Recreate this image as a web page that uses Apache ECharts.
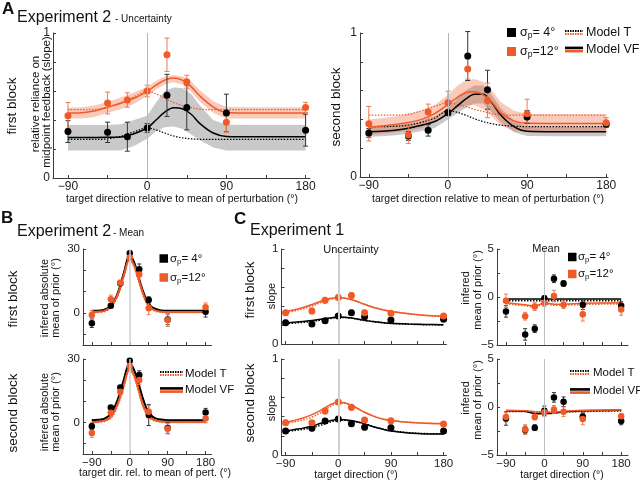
<!DOCTYPE html>
<html>
<head>
<meta charset="utf-8">
<script src="https://cdn.jsdelivr.net/npm/echarts@6/dist/echarts.min.js"></script>
<style>
  html, body { margin: 0; background: #fff; }
  #chart { width: 640px; height: 482px; }
</style>
</head>
<body>
<div id="chart"></div>
<script>
// target directions of the measured points, and the x grid of the model curves
const xs = [-90, -45, -22.5, 0, 22.5, 45, 90, 180];
const cx = [-90, -75, -60, -45, -30, -15, 0, 10, 20, 30, 40, 50, 60, 75, 90, 120, 150, 180];
const xTicks = [-90, -45, 0, 45, 90, 135, 180];
const xLabels = [-90, 0, 90, 180];

// A, first block (slope)
const a1K = [0.32, 0.315, 0.285, 0.345, 0.57, 0.487, 0.448, 0.33];
const a1KErr = [0.075, 0.07, 0.1, 0.03, 0.145, 0.155, 0.13, 0.11];
const a1O = [0.43, 0.517, 0.538, 0.6, 0.85, 0.664, 0.385, 0.487];
const a1OErr = [0.09, 0.075, 0.05, 0.04, 0.115, 0.045, 0.07, 0.035];
const a1VfK = [0.28, 0.28, 0.28, 0.281, 0.283, 0.305, 0.345, 0.4, 0.455, 0.485, 0.478, 0.44, 0.375, 0.31, 0.287, 0.285, 0.285, 0.285];
const a1VfO = [0.448, 0.45, 0.462, 0.488, 0.515, 0.55, 0.598, 0.64, 0.675, 0.69, 0.675, 0.63, 0.565, 0.49, 0.452, 0.448, 0.448, 0.448];
const a1TK = [0.266, 0.266, 0.266, 0.27, 0.288, 0.318, 0.345, 0.332, 0.31, 0.29, 0.277, 0.27, 0.267, 0.266, 0.266, 0.266, 0.266, 0.266];
const a1TO = [0.471, 0.471, 0.473, 0.49, 0.52, 0.56, 0.598, 0.58, 0.55, 0.52, 0.5, 0.485, 0.475, 0.471, 0.471, 0.471, 0.471, 0.471];
const a1BandKLo = [0.19, 0.19, 0.19, 0.19, 0.19, 0.22, 0.27, 0.32, 0.35, 0.355, 0.34, 0.3, 0.26, 0.21, 0.19, 0.19, 0.19, 0.19];
const a1BandKHi = [0.366, 0.366, 0.366, 0.366, 0.37, 0.4, 0.43, 0.52, 0.6, 0.625, 0.62, 0.58, 0.5, 0.4, 0.367, 0.366, 0.366, 0.366];
const a1BandOLo = [0.41, 0.41, 0.42, 0.45, 0.475, 0.51, 0.565, 0.61, 0.645, 0.66, 0.645, 0.595, 0.525, 0.45, 0.41, 0.41, 0.41, 0.41];
const a1BandOHi = [0.485, 0.488, 0.5, 0.525, 0.555, 0.59, 0.63, 0.67, 0.7, 0.71, 0.7, 0.665, 0.605, 0.53, 0.49, 0.488, 0.488, 0.488];

// A, second block
const a2K = [0.306, 0.285, 0.324, 0.447, 0.84, 0.606, 0.417, 0.366];
const a2KErr = [0.03, 0.03, 0.04, 0.02, 0.17, 0.135, 0.045, 0.02];
const a2O = [0.37, 0.292, 0.451, 0.516, 0.75, 0.532, 0.44, 0.377];
const a2OErr = [0.12, 0.06, 0.055, 0.08, 0.07, 0.12, 0.1, 0.035];
const a2VfK = [0.315, 0.318, 0.325, 0.338, 0.36, 0.385, 0.44, 0.49, 0.54, 0.575, 0.575, 0.515, 0.43, 0.35, 0.318, 0.315, 0.315, 0.315];
const a2VfO = [0.347, 0.355, 0.365, 0.378, 0.4, 0.44, 0.505, 0.55, 0.585, 0.592, 0.57, 0.52, 0.445, 0.39, 0.373, 0.372, 0.372, 0.372];
const a2TK = [0.35, 0.35, 0.352, 0.36, 0.38, 0.41, 0.46, 0.45, 0.43, 0.405, 0.385, 0.37, 0.36, 0.353, 0.35, 0.35, 0.35, 0.35];
const a2TO = [0.43, 0.43, 0.43, 0.435, 0.46, 0.49, 0.515, 0.505, 0.49, 0.47, 0.455, 0.44, 0.432, 0.43, 0.43, 0.43, 0.43, 0.43];
const a2BandKLo = [0.28, 0.283, 0.29, 0.3, 0.32, 0.34, 0.4, 0.44, 0.48, 0.51, 0.51, 0.45, 0.38, 0.31, 0.285, 0.283, 0.283, 0.283];
const a2BandKHi = [0.35, 0.353, 0.36, 0.37, 0.39, 0.42, 0.48, 0.54, 0.6, 0.635, 0.635, 0.57, 0.48, 0.39, 0.35, 0.348, 0.348, 0.348];
const a2BandOLo = [0.29, 0.3, 0.31, 0.32, 0.34, 0.38, 0.44, 0.47, 0.5, 0.5, 0.47, 0.42, 0.36, 0.32, 0.31, 0.31, 0.31, 0.31];
const a2BandOHi = [0.4, 0.41, 0.42, 0.44, 0.46, 0.5, 0.57, 0.63, 0.67, 0.68, 0.66, 0.6, 0.52, 0.46, 0.44, 0.435, 0.435, 0.435];

// B, inferred absolute mean of prior (deg)
const b1K = [-4.8, 3.4, 13.9, 28, 20.5, 6.1, -3, 0.6];
const b1KErr = [2, 1, 1, 1, 2.5, 1.5, 2.5, 2.5];
const b1O = [-0.9, 6.4, 14.2, 26, 18, 2.2, -3.3, 2.7];
const b1OErr = [2, 2, 1.2, 1, 2, 3, 3, 2];
const b1VfK = [1, 1.1, 1.5, 3.5, 8.5, 18, 27, 24, 17.5, 11, 6, 3.2, 2, 1.2, 1, 1, 1, 1];
const b1VfO = [0.5, 0.6, 1, 3, 8, 17, 25.5, 22.5, 16.5, 10, 5, 2.5, 1.2, 0.6, 0.5, 0.5, 0.5, 0.5];
const b1TK = [0.8, 0.9, 1.3, 3.2, 8.2, 17.5, 26.5, 23.5, 17, 10.5, 5.6, 3, 1.8, 1, 0.8, 0.8, 0.8, 0.8];
const b1TO = [0.3, 0.4, 0.8, 2.7, 7.6, 16.5, 25, 22, 16, 9.5, 4.6, 2.2, 1, 0.4, 0.3, 0.3, 0.3, 0.3];

const b2K = [-1.9, 7, 16.5, 29.2, 22.4, 3.5, -2.7, 4.6];
const b2KErr = [1.5, 1, 1, 1, 2, 5, 2.5, 2];
const b2O = [-5.1, 4.5, 14.5, 26.7, 20, 5, -3, 1.8];
const b2OErr = [2, 2, 1.5, 1.2, 2, 3, 2.5, 2];
const b2VfK = [1, 1.2, 1.8, 4, 10, 19.5, 28, 25, 19, 12, 6.5, 3.5, 2, 1.3, 1, 1, 1, 1];
const b2VfO = [0.2, 0.3, 0.8, 2.5, 8, 17, 25.5, 22.5, 16, 9, 4.5, 2, 1, 0.4, 0.2, 0.2, 0.2, 0.2];
const b2TK = [0.8, 1, 1.6, 3.7, 9.6, 19, 27.5, 24.5, 18.5, 11.5, 6, 3.2, 1.8, 1.1, 0.8, 0.8, 0.8, 0.8];
const b2TO = [0, 0.1, 0.6, 2.2, 7.5, 16.5, 25, 22, 15.5, 8.5, 4, 1.7, 0.8, 0.2, 0, 0, 0, 0];

// C, experiment 1, uncertainty (slope)
const c1K = [0.225, 0.21, 0.246, 0.295, 0.33, 0.288, 0.253, 0.26];
const c1KErr = [0.025, 0.02, 0.02, 0.02, 0.025, 0.02, 0.02, 0.015];
const c1O = [0.33, 0.347, 0.46, 0.49, 0.51, 0.33, 0.323, 0.295];
const c1OErr = [0.025, 0.03, 0.03, 0.025, 0.03, 0.025, 0.02, 0.015];
const c1VfK = [0.222, 0.228, 0.236, 0.247, 0.26, 0.274, 0.283, 0.282, 0.276, 0.266, 0.255, 0.245, 0.236, 0.226, 0.218, 0.21, 0.205, 0.203];
const c1VfO = [0.34, 0.36, 0.385, 0.415, 0.45, 0.478, 0.488, 0.485, 0.472, 0.452, 0.428, 0.405, 0.385, 0.36, 0.343, 0.318, 0.3, 0.292];
const c1TK = [0.215, 0.22, 0.228, 0.238, 0.252, 0.268, 0.28, 0.28, 0.274, 0.264, 0.253, 0.243, 0.234, 0.224, 0.216, 0.208, 0.203, 0.2];
const c1TO = [0.33, 0.348, 0.372, 0.4, 0.435, 0.468, 0.482, 0.482, 0.47, 0.452, 0.43, 0.408, 0.388, 0.363, 0.346, 0.32, 0.302, 0.294];

const c2K = [0.25, 0.278, 0.354, 0.375, 0.326, 0.288, 0.285, 0.25];
const c2KErr = [0.025, 0.025, 0.02, 0.025, 0.02, 0.025, 0.025, 0.015];
const c2O = [0.337, 0.337, 0.458, 0.552, 0.497, 0.365, 0.358, 0.323];
const c2OErr = [0.025, 0.02, 0.03, 0.025, 0.03, 0.025, 0.02, 0.02];
const c2VfK = [0.25, 0.265, 0.28, 0.3, 0.33, 0.355, 0.37, 0.368, 0.36, 0.35, 0.335, 0.315, 0.295, 0.27, 0.25, 0.23, 0.22, 0.218];
const c2VfO = [0.34, 0.36, 0.385, 0.42, 0.465, 0.52, 0.55, 0.545, 0.525, 0.495, 0.46, 0.43, 0.405, 0.375, 0.36, 0.34, 0.33, 0.325];
const c2TK = [0.245, 0.255, 0.268, 0.285, 0.31, 0.34, 0.362, 0.362, 0.356, 0.347, 0.333, 0.315, 0.296, 0.272, 0.253, 0.233, 0.223, 0.22];
const c2TO = [0.33, 0.345, 0.365, 0.395, 0.44, 0.5, 0.54, 0.54, 0.522, 0.495, 0.462, 0.433, 0.408, 0.378, 0.362, 0.342, 0.332, 0.327];

// C, experiment 1, mean (deg) - model values at the measured directions
const c3K = [-1.5, -3.9, -3.3, -0.15, 1.9, 1.4, -0.8, -0.9];
const c3KErr = [0.6, 0.6, 0.4, 0.3, 0.4, 0.3, 0.5, 0.4];
const c3O = [-0.4, -2.0, -1.0, -0.6, 0.1, -0.8, -1.8, -1.3];
const c3OErr = [0.7, 0.4, 0.4, 0.4, 0.6, 0.4, 0.7, 0.6];
const c3VfK = [-0.2, -0.2, -0.2, -0.2, -0.2, -0.2, -0.2, -0.2];
const c3VfO = [-0.6, -0.8, -0.95, -0.6, -0.75, -0.75, -0.65, -0.6];
const c3TK = [-0.38, -0.38, -0.38, -0.38, -0.38, -0.38, -0.38, -0.38];
const c3TO = [-0.7, -0.9, -1.05, -0.7, -0.85, -0.85, -0.75, -0.7];

const c4K = [-1.2, -2.4, -2.15, -0.4, 1.0, 0.55, -1.0, -1.45];
const c4KErr = [0.7, 0.4, 0.3, 0.5, 0.5, 0.5, 0.4, 0.4];
const c4O = [-1.05, -2.35, -1.05, -0.55, -0.25, -0.5, -1.25, -0.97];
const c4OErr = [0.5, 0.5, 0.3, 0.4, 0.4, 0.5, 0.6, 0.3];
const c4VfK = [-0.4, -0.45, -0.7, -0.7, -0.65, -0.5, -0.4, -0.35];
const c4VfO = [-0.35, -0.4, -0.5, -0.55, -0.55, -0.45, -0.35, -0.3];
const c4TK = [-0.45, -0.45, -0.5, -0.55, -0.55, -0.5, -0.45, -0.4];
const c4TO = [-0.4, -0.45, -0.55, -0.6, -0.6, -0.5, -0.4, -0.35];

const FONT = '"Liberation Sans", Arial, sans-serif';
const AX = '#3c3c3c';
const BLACK = '#000000';
const ORANGE = '#ef5a28';

function minus(v) { return v < 0 ? '\u2212' + (-v) : String(v); }

/* grids: left, top, width, height */
const grids = [
  { left: 53, top: 33, width: 257, height: 145 },     // A1
  { left: 360, top: 33, width: 248, height: 144 },    // A2
  { left: 83, top: 249, width: 128.5, height: 96 },   // B1
  { left: 83, top: 359, width: 128.5, height: 95 },   // B2
  { left: 281.5, top: 249, width: 165, height: 95 },  // C1
  { left: 281.5, top: 359, width: 165, height: 96 },  // C2
  { left: 497, top: 249, width: 131, height: 96 },    // C3
  { left: 497, top: 359, width: 131, height: 96 }     // C4
];

const xRange = [[-107, 185], [-100, 182], [-111, 194], [-111, 194], [-97, 185], [-97, 185], [-111, 196], [-111, 196]];
const yRange = [[0, 1], [0, 1], [-15, 30], [-15, 30], [0, 1], [0, 1], [-5, 5], [-5, 5]];
const yTicks = [
  [0, 0.2, 0.4, 0.6, 0.8, 1], [0, 0.2, 0.4, 0.6, 0.8, 1],
  [-10, 0, 10, 20, 30], [-10, 0, 10, 20, 30],
  [0, 0.2, 0.4, 0.6, 0.8, 1], [0, 0.2, 0.4, 0.6, 0.8, 1],
  [-5, -2.5, 0, 2.5, 5], [-5, -2.5, 0, 2.5, 5]
];
const yLabels = [[0, 1], [0, 1], [0, 30], [0, 30], [0, 1], [0, 1], [-5, 0, 5], [-5, 0, 5]];
const showXLabels = [true, true, false, true, false, true, false, true];

const xAxes = grids.map((g, i) => ({
  type: 'value', gridIndex: i, min: xRange[i][0], max: xRange[i][1],
  axisLine: { onZero: false, lineStyle: { color: AX, width: 1 } },
  splitLine: { show: false },
  axisTick: { inside: true, length: 3, lineStyle: { color: AX }, customValues: xTicks },
  axisLabel: {
    show: showXLabels[i], customValues: xLabels, formatter: minus,
    fontSize: i < 2 ? 12 : 11.5, color: '#222', margin: 3, fontFamily: FONT
  }
}));

const yAxes = grids.map((g, i) => ({
  type: 'value', gridIndex: i, min: yRange[i][0], max: yRange[i][1],
  axisLine: { onZero: false, lineStyle: { color: AX, width: 1 } },
  splitLine: { show: false },
  axisTick: { inside: true, length: 3, lineStyle: { color: AX }, customValues: yTicks[i] },
  axisLabel: {
    customValues: yLabels[i], formatter: minus,
    fontSize: i < 2 ? 12 : 11.5, color: '#222', margin: 3, fontFamily: FONT
  }
}));

function curve(gi, xv, yv, color, width, dotted, smooth) {
  return {
    type: 'line', xAxisIndex: gi, yAxisIndex: gi, silent: true, z: 2,
    data: xv.map((x, i) => [x, yv[i]]),
    symbol: 'none', smooth: smooth,
    lineStyle: { color: color, width: width, type: dotted ? [1.5, 1.5] : 'solid' }
  };
}

/* shaded band between lo and hi, drawn as one polygon */
function band(gi, lo, hi, color) {
  return {
    type: 'custom', xAxisIndex: gi, yAxisIndex: gi, silent: true, z: 1,
    data: [[cx[0], lo[0], hi[0]]],
    encode: { x: 0, y: [1, 2] },
    renderItem: function (params, api) {
      const pts = [];
      for (let i = 0; i < cx.length; i++) pts.push(api.coord([cx[i], hi[i]]));
      for (let i = cx.length - 1; i >= 0; i--) pts.push(api.coord([cx[i], lo[i]]));
      return { type: 'polygon', shape: { points: pts }, style: { fill: color } };
    }
  };
}

function errBars(gi, vals, errs, color, cap) {
  return {
    type: 'custom', xAxisIndex: gi, yAxisIndex: gi, silent: true, z: 3,
    data: xs.map((x, i) => [x, vals[i] - errs[i], vals[i] + errs[i]]),
    encode: { x: 0, y: [1, 2] },
    renderItem: function (params, api) {
      const lo = api.coord([api.value(0), api.value(1)]);
      const hi = api.coord([api.value(0), api.value(2)]);
      const w = cap / 2;
      const st = { stroke: color, lineWidth: 1 };
      return {
        type: 'group', children: [
          { type: 'line', shape: { x1: lo[0], y1: lo[1], x2: hi[0], y2: hi[1] }, style: st },
          { type: 'line', shape: { x1: lo[0] - w, y1: lo[1], x2: lo[0] + w, y2: lo[1] }, style: st },
          { type: 'line', shape: { x1: hi[0] - w, y1: hi[1], x2: hi[0] + w, y2: hi[1] }, style: st }
        ]
      };
    }
  };
}

function dots(gi, vals, color, size) {
  return {
    type: 'scatter', xAxisIndex: gi, yAxisIndex: gi, silent: true, z: 4,
    data: xs.map((x, i) => [x, vals[i]]), symbolSize: size,
    itemStyle: { color: color, opacity: 1 }
  };
}

function zeroLine(gi, color, width) {
  return {
    type: 'line', xAxisIndex: gi, yAxisIndex: gi, silent: true, z: 0, data: [],
    markLine: {
      silent: true, symbol: 'none', label: { show: false }, animation: false,
      lineStyle: { color: color, width: width, type: 'solid' },
      data: [{ xAxis: 0 }]
    }
  };
}

/* one panel: measured points, error bars, model T (dotted) and model VF (solid) */
function panel(gi, p) {
  const s = [zeroLine(gi, p.zeroColor, p.zeroWidth)];
  if (p.bandK) s.push(band(gi, p.bandK[0], p.bandK[1], 'rgba(0,0,0,0.21)'));
  if (p.bandO) s.push(band(gi, p.bandO[0], p.bandO[1], 'rgba(240,90,40,0.32)'));
  s.push(curve(gi, p.cxv, p.tK, BLACK, p.tw, true, p.smooth));
  s.push(curve(gi, p.cxv, p.tO, ORANGE, p.tw, true, p.smooth));
  s.push(curve(gi, p.cxv, p.vfK, BLACK, p.lw, false, p.smooth));
  s.push(curve(gi, p.cxv, p.vfO, ORANGE, p.lw, false, p.smooth));
  s.push(errBars(gi, p.k, p.kErr, '#333333', p.cap));
  s.push(errBars(gi, p.o, p.oErr, '#f07a50', p.cap));
  s.push(dots(gi, p.k, BLACK, p.size));
  s.push(dots(gi, p.o, ORANGE, p.size));
  return s;
}

const series = [].concat(
  panel(0, { k: a1K, kErr: a1KErr, o: a1O, oErr: a1OErr, cxv: cx, vfK: a1VfK, vfO: a1VfO, tK: a1TK, tO: a1TO,
    bandK: [a1BandKLo, a1BandKHi], bandO: [a1BandOLo, a1BandOHi], lw: 1.5, tw: 1.2, smooth: 0.35, cap: 5, size: 7,
    zeroColor: '#b5b5b5', zeroWidth: 1 }),
  panel(1, { k: a2K, kErr: a2KErr, o: a2O, oErr: a2OErr, cxv: cx, vfK: a2VfK, vfO: a2VfO, tK: a2TK, tO: a2TO,
    bandK: [a2BandKLo, a2BandKHi], bandO: [a2BandOLo, a2BandOHi], lw: 1.5, tw: 1.2, smooth: 0.35, cap: 5, size: 7,
    zeroColor: '#b5b5b5', zeroWidth: 1 }),
  panel(2, { k: b1K, kErr: b1KErr, o: b1O, oErr: b1OErr, cxv: cx, vfK: b1VfK, vfO: b1VfO, tK: b1TK, tO: b1TO,
    lw: 2, tw: 2, smooth: 0.35, cap: 4, size: 6.5, zeroColor: '#cfcfcf', zeroWidth: 1.5 }),
  panel(3, { k: b2K, kErr: b2KErr, o: b2O, oErr: b2OErr, cxv: cx, vfK: b2VfK, vfO: b2VfO, tK: b2TK, tO: b2TO,
    lw: 2, tw: 2, smooth: 0.35, cap: 4, size: 6.5, zeroColor: '#cfcfcf', zeroWidth: 1.5 }),
  panel(4, { k: c1K, kErr: c1KErr, o: c1O, oErr: c1OErr, cxv: cx, vfK: c1VfK, vfO: c1VfO, tK: c1TK, tO: c1TO,
    lw: 1.5, tw: 1.5, smooth: 0.35, cap: 4, size: 7, zeroColor: '#d0d0d0', zeroWidth: 2 }),
  panel(5, { k: c2K, kErr: c2KErr, o: c2O, oErr: c2OErr, cxv: cx, vfK: c2VfK, vfO: c2VfO, tK: c2TK, tO: c2TO,
    lw: 1.5, tw: 1.5, smooth: 0.35, cap: 4, size: 7, zeroColor: '#d0d0d0', zeroWidth: 2 }),
  panel(6, { k: c3K, kErr: c3KErr, o: c3O, oErr: c3OErr, cxv: xs, vfK: c3VfK, vfO: c3VfO, tK: c3TK, tO: c3TO,
    lw: 1.5, tw: 1.8, smooth: false, cap: 4, size: 6.5, zeroColor: '#c0c0c0', zeroWidth: 1 }),
  panel(7, { k: c4K, kErr: c4KErr, o: c4O, oErr: c4OErr, cxv: xs, vfK: c4VfK, vfO: c4VfO, tK: c4TK, tO: c4TO,
    lw: 1.5, tw: 1.8, smooth: false, cap: 4, size: 6.5, zeroColor: '#c0c0c0', zeroWidth: 1 })
);

/* texts and legends */
function txt(x, y, s, size, opt) {
  opt = opt || {};
  return {
    type: 'text', x: x, y: y, rotation: opt.rot ? Math.PI / 2 : 0, silent: true, z: 10,
    style: {
      text: s, fontSize: size, fontFamily: FONT, fill: '#111',
      fontWeight: opt.bold ? 'bold' : 'normal',
      textAlign: opt.align || 'center', textVerticalAlign: 'middle', rich: opt.rich
    }
  };
}

function sigma(x, y, s, size) {
  return txt(x, y, '{a|\u03c3}{s|p}{a|' + s + '}', size, {
    align: 'left',
    rich: {
      a: { fontSize: size, fontFamily: FONT, fill: '#111' },
      s: { fontSize: size * 0.68, fontFamily: FONT, fill: '#111', padding: [size * 0.5, 0, 0, 0] }
    }
  });
}

function sq(x, y, w, color) {
  return { type: 'rect', silent: true, z: 10, shape: { x: x, y: y, width: w, height: w }, style: { fill: color } };
}

function seg(x1, x2, y, color, w, dotted) {
  return {
    type: 'line', silent: true, z: 10, shape: { x1: x1, y1: y, x2: x2, y2: y },
    style: { stroke: color, lineWidth: w, lineDash: dotted ? [1.5, 1] : null }
  };
}

function sigmaLegend(x, y1, y2, w, tx, size) {
  return [
    sq(x, y1 - w / 2, w, BLACK), sigma(tx, y1, '= 4\u00b0', size),
    sq(x, y2 - w / 2, w, ORANGE), sigma(tx, y2, '=12\u00b0', size)
  ];
}

function modelLegend(x1, x2, yT, yVF, tx, size) {
  return [
    seg(x1, x2, yT - 1.5, BLACK, 2, true), seg(x1, x2, yT + 1.5, ORANGE, 2, true),
    txt(tx, yT, 'Model T', size, { align: 'left' }),
    seg(x1, x2, yVF - 1.6, BLACK, 2.6, false), seg(x1, x2, yVF + 1.6, ORANGE, 2.6, false),
    txt(tx, yVF, 'Model VF', size, { align: 'left' })
  ];
}

const xTitleA = 'target direction relative to mean of perturbation (\u00b0)';

const graphic = [
  txt(2, 9, 'A', 17, { bold: true, align: 'left' }),
  txt(17, 18, 'Experiment 2', 16, { align: 'left' }),
  txt(115, 19, '- Uncertainty', 10, { align: 'left' }),
  txt(12, 106, 'first block', 13.5, { rot: true }),
  txt(35.5, 104, 'relative reliance on', 11.5, { rot: true }),
  txt(46.5, 102, 'midpoint feedback (slope)', 11.5, { rot: true }),
  txt(336, 107, 'second block', 13.5, { rot: true }),
  txt(182, 199, xTitleA, 10.5),
  txt(488, 199, xTitleA, 10.5),

  txt(1, 218, 'B', 17, { bold: true, align: 'left' }),
  txt(17, 232, 'Experiment 2', 16, { align: 'left' }),
  txt(113, 233, '- Mean', 10, { align: 'left' }),
  txt(13, 299, 'first block', 13.5, { rot: true }),
  txt(44.5, 298, 'infered absolute', 11, { rot: true }),
  txt(55.5, 298, 'mean of prior (\u00b0)', 11, { rot: true }),
  txt(13, 413, 'second block', 13.5, { rot: true }),
  txt(44.5, 412, 'infered absolute', 11, { rot: true }),
  txt(55.5, 412, 'mean of prior (\u00b0)', 11, { rot: true }),
  txt(155, 473, 'target dir. rel. to mean of pert. (\u00b0)', 10.5),

  txt(234, 219, 'C', 17, { bold: true, align: 'left' }),
  txt(250, 231, 'Experiment 1', 16, { align: 'left' }),
  txt(351, 250, 'Uncertainty', 11),
  txt(546, 249, 'Mean', 11),
  txt(250, 290, 'first block', 13.5, { rot: true }),
  txt(272, 296, 'slope', 11, { rot: true }),
  txt(250, 403, 'second block', 13.5, { rot: true }),
  txt(272, 408, 'slope', 11, { rot: true }),
  txt(466, 288, 'infered', 11, { rot: true }),
  txt(478, 290, 'mean of prior (\u00b0)', 11, { rot: true }),
  txt(466, 398, 'infered', 11, { rot: true }),
  txt(478, 400, 'mean of prior (\u00b0)', 11, { rot: true }),
  txt(356, 475, 'target direction (\u00b0)', 10.5),
  txt(562, 475, 'target direction (\u00b0)', 10.5)
].concat(
  sigmaLegend(507, 32.5, 51.5, 9, 520, 12.5),
  modelLegend(565, 583, 32.5, 49.5, 586, 12.5),
  sigmaLegend(159.5, 258.5, 277.5, 8.5, 170, 11.5),
  modelLegend(160, 183, 373.5, 390, 185, 11.5),
  sigmaLegend(568, 257, 274, 8.5, 578, 11.5),
  modelLegend(570, 590, 372.5, 391, 593, 11.5)
);

const chart = echarts.init(document.getElementById('chart'), null, { renderer: 'canvas' });
chart.setOption({
  animation: false,
  backgroundColor: '#ffffff',
  textStyle: { fontFamily: FONT },
  grid: grids.map(g => Object.assign({ containLabel: false }, g)),
  xAxis: xAxes,
  yAxis: yAxes,
  series: series,
  graphic: graphic
});
</script>
</body>
</html>
